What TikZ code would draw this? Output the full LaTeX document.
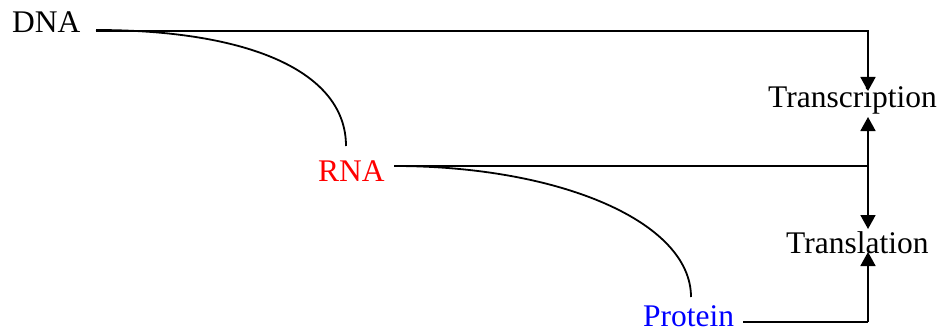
\documentclass[tikz,border=0pt]{standalone}
\usepackage{fontspec}
\setmainfont{Liberation Serif}
\usetikzlibrary{arrows.meta}
\begin{document}
\begin{tikzpicture}[x=1pt,y=-1pt,
  lbl/.style={anchor=base west,inner sep=0pt,font=\fontsize{31.5}{36}\selectfont},
  ln/.style={line width=1.8pt},
  arr/.style={ln,-{Triangle[width=15pt,length=14pt]}}]
\useasboundingbox (0,0) rectangle (943,329);
% nodes
\node[lbl] (DNA) at (12,33) {DNA};
\node[lbl,text={rgb,255:red,255;green,0;blue,0}] (RNA) at (318,181) {RNA};
\node[lbl,text={rgb,255:red,0;green,0;blue,255}] (Protein) at (643,326) {Protein};
\node[lbl] (Transcription) at (768,107) {Transcription};
\node[lbl] (Translation) at (786,253) {Translation};
% connector points
\coordinate (dnaOut) at (96,31);
\coordinate (rnaOut) at (394,166);
\coordinate (protOut) at (743,322);
\coordinate (rnaTop) at (346,146);
\coordinate (protTop) at (691,297);
\coordinate (tcIn) at (868,91);
\coordinate (tcUp) at (868,117);
\coordinate (tlIn) at (868,229);
\coordinate (tlUp) at (868,252);
\coordinate (mid) at (868,166);
\coordinate (bot) at (868,322);
% straight connectors
\draw[arr] (dnaOut) -| (tcIn);
\draw[ln] (rnaOut) -- (mid);
\draw[arr] (mid) -- (tcUp);
\draw[arr] (mid) -- (tlIn);
\draw[ln] (protOut) -- (bot);
\draw[arr] (bot) -- (tlUp);
% curves
\draw[ln] (96,30) .. controls (250,30) and (346,72) .. (rnaTop);
\draw[ln] (rnaOut) .. controls (560,166) and (691,222) .. (protTop);
\end{tikzpicture}
\end{document}
